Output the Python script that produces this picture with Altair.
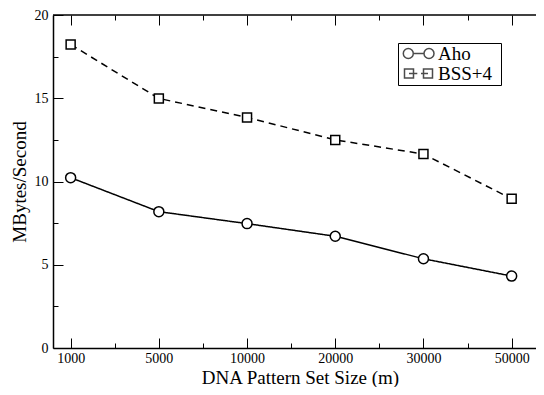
import altair as alt
import pandas as pd

FONT = "Liberation Serif"

sizes = ["1000", "5000", "10000", "20000", "30000", "50000"]
aho = [10.23, 8.19, 7.47, 6.71, 5.36, 4.32]
bss = [18.23, 14.99, 13.85, 12.50, 11.65, 8.96]
series_names = ["Aho", "BSS+4"]

x_major = [1, 2, 3, 4, 5, 6]
x_minor = [1.5, 2.5, 3.5, 4.5, 5.5]
y_major = [0, 5, 10, 15, 20]
y_minor = [2.5, 7.5, 12.5, 17.5]

rows = []
for i, s in enumerate(sizes):
    rows.append({"idx": i + 1, "size": s, "series": "Aho", "value": aho[i]})
    rows.append({"idx": i + 1, "size": s, "series": "BSS+4", "value": bss[i]})
df = pd.DataFrame(rows)

W, H = 483, 333
xscale = alt.Scale(domain=[0.8, 6.276], nice=False, zero=False)
yscale = alt.Scale(domain=[0, 20], nice=False, zero=False)

label_expr = "[" + ",".join("'%s'" % s for s in sizes) + "][round(datum.value) - 1]"

x_axis = alt.Axis(orient="bottom", values=x_major, labelExpr=label_expr, ticks=False,
                  tickSize=0, labelPadding=3, labelFont=FONT, labelFontSize=14,
                  labelColor="black", domainColor="black", domainWidth=1.5, grid=False,
                  labelFlush=False, labelOverlap=False, title="DNA Pattern Set Size (m)",
                  titleFont=FONT, titleFontSize=19, titleFontWeight="normal",
                  titleColor="black", titleBaseline="alphabetic", titleY=35, titleX=247)
y_axis = alt.Axis(orient="left", values=y_major, ticks=False, tickSize=0, labelPadding=5,
                  labelFont=FONT, labelFontSize=14, labelColor="black",
                  domainColor="black", domainWidth=1.5, grid=False, labelFlush=False,
                  labelOverlap=False, title="MBytes/Second", titleFont=FONT,
                  titleFontSize=19, titleFontWeight="normal", titleColor="black",
                  titleBaseline="alphabetic", titleX=-28)

base = alt.Chart(df)

lines = base.mark_line(color="black", strokeWidth=1.5).encode(
    x=alt.X("idx:Q", scale=xscale, axis=x_axis),
    y=alt.Y("value:Q", scale=yscale, axis=y_axis),
    detail="series:N",
    strokeDash=alt.StrokeDash("series:N",
                              scale=alt.Scale(domain=series_names, range=[[1, 0], [7, 5]]),
                              legend=None),
)

x_plain = alt.X("idx:Q", scale=xscale, axis=None)
y_plain = alt.Y("value:Q", scale=yscale, axis=None)

points = base.mark_point(fill="white", stroke="black", strokeWidth=1.5,
                         fillOpacity=1, opacity=1).encode(
    x=x_plain, y=y_plain,
    shape=alt.Shape("series:N", scale=alt.Scale(domain=series_names, range=["circle", "square"]),
                    legend=None),
    size=alt.Size("series:N", scale=alt.Scale(domain=series_names, range=[100, 81]),
                  legend=None),
)

# legend symbols (1 unit = 1 px); trailing move-to widens the legend box
path_aho = ("M 4.8,0 A 5,5 0 1,1 -5.2,0 A 5,5 0 1,1 4.8,0 L 15.5,0 "
            "A 5,5 0 1,1 25.5,0 A 5,5 0 1,1 15.5,0 M 88.5,0")
path_bss = ("M -4,-4.5 H 5 V 4.5 H -4 Z M 0.5,0 H 8.8 M 12.5,0 H 19.5 "
            "M 15,-4.5 H 24 V 4.5 H 15 Z M 88.5,0")

legend_layer = base.mark_point(size=4, filled=False, color="black", strokeWidth=1.5,
                               clip=True).encode(
    x=x_plain,
    y=alt.value(-80),
    shape=alt.Shape("series:N",
                    scale=alt.Scale(domain=series_names, range=[path_aho, path_bss]),
                    legend=alt.Legend(title=None, orient="none", legendX=345, legendY=28,
                                      strokeColor="black", fillColor="white",
                                      padding=1, rowPadding=0, symbolSize=4,
                                      symbolStrokeWidth=1.5, symbolStrokeColor="black",
                                      symbolFillColor="transparent", labelFont=FONT,
                                      labelFontSize=19, labelColor="black",
                                      labelOffset=20, labelLimit=300, cornerRadius=0)),
)


def inward_ticks(values, channel, orient, offset, length):
    d = pd.DataFrame({"t": values})
    ax = alt.Axis(orient=orient, offset=offset, values=values, tickSize=length,
                  tickColor="black", tickWidth=1, tickOpacity=1, labels=False,
                  domain=False, grid=False, title=None)
    c = alt.Chart(d).mark_point(opacity=0)
    if channel == "x":
        return c.encode(x=alt.X("t:Q", scale=xscale, axis=ax))
    return c.encode(y=alt.Y("t:Q", scale=yscale, axis=ax))


ticks = [
    inward_ticks(x_major, "x", "top", -H, 10),
    inward_ticks(x_minor, "x", "top", -H, 5),
    inward_ticks(x_major, "x", "bottom", -H, 10),
    inward_ticks(x_minor, "x", "bottom", -H, 5),
    inward_ticks(y_major, "y", "right", -W, 10),
    inward_ticks(y_minor, "y", "right", -W, 5),
]

top_border = alt.Chart(pd.DataFrame({"a": [0]})).mark_rule(
    color="black", strokeWidth=1.5).encode(
    x=alt.value(0), x2=alt.value(W), y=alt.value(0))

chart = alt.layer(lines, *ticks, top_border, points, legend_layer).resolve_scale(
    shape="independent"
).resolve_axis(
    x="independent", y="independent"
).properties(
    width=W, height=H, autosize="none",
    padding={"left": 45, "top": 7, "right": 0, "bottom": 39},
    background="white",
).configure_view(stroke="transparent", strokeWidth=0)

chart.save("out.html", embed_options={"renderer": "svg", "actions": False})
